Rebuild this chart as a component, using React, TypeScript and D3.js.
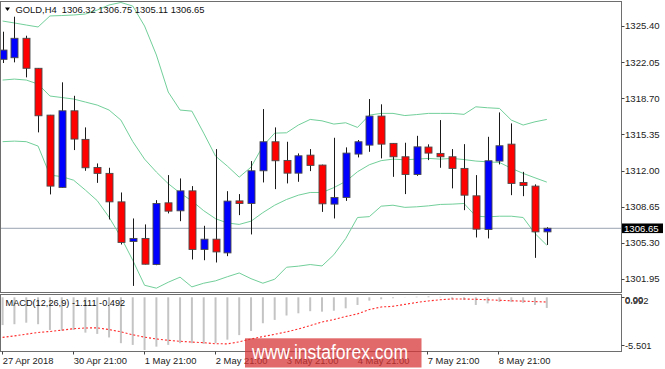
import React from "react";
import * as d3 from "d3";

const times = [
  "2018-04-27 21:00",
  "2018-04-30 01:00", "2018-04-30 05:00", "2018-04-30 09:00", "2018-04-30 13:00", "2018-04-30 17:00", "2018-04-30 21:00",
  "2018-05-01 01:00", "2018-05-01 05:00", "2018-05-01 09:00", "2018-05-01 13:00", "2018-05-01 17:00", "2018-05-01 21:00",
  "2018-05-02 01:00", "2018-05-02 05:00", "2018-05-02 09:00", "2018-05-02 13:00", "2018-05-02 17:00", "2018-05-02 21:00",
  "2018-05-03 01:00", "2018-05-03 05:00", "2018-05-03 09:00", "2018-05-03 13:00", "2018-05-03 17:00", "2018-05-03 21:00",
  "2018-05-04 01:00", "2018-05-04 05:00", "2018-05-04 09:00", "2018-05-04 13:00", "2018-05-04 17:00", "2018-05-04 21:00",
  "2018-05-07 01:00", "2018-05-07 05:00", "2018-05-07 09:00", "2018-05-07 13:00", "2018-05-07 17:00", "2018-05-07 21:00",
  "2018-05-08 01:00", "2018-05-08 05:00", "2018-05-08 09:00", "2018-05-08 13:00", "2018-05-08 17:00", "2018-05-08 21:00",
  "2018-05-09 01:00", "2018-05-09 05:00", "2018-05-09 09:00", "2018-05-09 13:00",
];

const openP = [1322.31, 1322.46, 1324.26, 1321.48, 1317.14, 1310.44, 1317.54, 1314.89, 1312.29, 1311.74, 1309.10, 1305.43, 1305.71, 1303.29, 1309.01, 1308.27, 1310.12, 1304.69, 1305.64, 1304.37, 1309.19, 1308.95, 1311.98, 1314.67, 1312.94, 1311.76, 1313.43, 1312.51, 1308.89, 1309.51, 1313.53, 1314.36, 1317.05, 1314.52, 1313.28, 1311.64, 1314.18, 1313.59, 1313.28, 1312.20, 1309.66, 1306.54, 1312.88, 1314.45, 1310.90, 1310.56, 1306.32];
const highP = [1324.87, 1326.26, 1324.50, 1321.50, 1317.16, 1320.18, 1318.93, 1316.00, 1312.66, 1312.26, 1309.97, 1307.56, 1307.01, 1309.26, 1311.58, 1311.27, 1310.56, 1306.88, 1313.99, 1310.09, 1309.82, 1312.88, 1317.70, 1316.00, 1314.67, 1313.59, 1313.99, 1312.55, 1315.04, 1314.15, 1314.83, 1318.63, 1318.14, 1314.55, 1314.58, 1315.22, 1314.43, 1316.68, 1313.99, 1314.45, 1311.58, 1315.13, 1317.39, 1316.37, 1311.88, 1310.72, 1306.75];
const lowP = [1321.97, 1322.03, 1320.64, 1315.54, 1309.79, 1310.40, 1313.90, 1311.98, 1310.86, 1307.47, 1305.15, 1301.31, 1303.30, 1303.23, 1308.03, 1307.31, 1303.76, 1303.69, 1303.48, 1304.07, 1307.87, 1306.08, 1310.90, 1310.28, 1310.81, 1310.96, 1311.95, 1308.17, 1307.56, 1309.19, 1313.22, 1313.74, 1313.13, 1311.42, 1309.82, 1311.51, 1312.97, 1312.26, 1310.35, 1308.33, 1305.80, 1305.71, 1312.57, 1309.72, 1309.63, 1303.91, 1305.11];
const closeP = [1323.17, 1324.26, 1321.48, 1317.08, 1310.56, 1317.54, 1314.92, 1312.26, 1311.74, 1309.10, 1305.34, 1305.71, 1303.32, 1308.95, 1308.24, 1310.12, 1304.69, 1305.64, 1304.46, 1309.17, 1308.95, 1311.98, 1314.67, 1312.91, 1311.76, 1313.37, 1312.48, 1308.92, 1309.51, 1313.62, 1314.67, 1317.05, 1314.45, 1313.28, 1311.64, 1314.20, 1313.62, 1313.28, 1312.20, 1309.72, 1306.57, 1312.91, 1314.30, 1310.81, 1310.62, 1306.32, 1306.65];

const bbUpper = [1325.86, 1325.68, 1325.49, 1325.31, 1326.33, 1326.37, 1326.42, 1326.51, 1326.88, 1327.35, 1327.58, 1327.25, 1325.40, 1322.71, 1319.28, 1317.61, 1317.51, 1315.47, 1313.34, 1312.41, 1311.39, 1312.32, 1314.27, 1315.47, 1315.50, 1316.22, 1316.74, 1316.61, 1316.31, 1316.43, 1316.00, 1317.14, 1317.30, 1317.30, 1317.10, 1317.19, 1317.30, 1317.30, 1317.30, 1317.21, 1317.91, 1317.82, 1317.76, 1316.68, 1316.22, 1316.52, 1316.74];
const bbMiddle = [1320.39, 1320.48, 1320.39, 1320.02, 1318.91, 1318.77, 1318.63, 1318.35, 1318.07, 1317.61, 1316.68, 1314.69, 1313.06, 1311.86, 1310.79, 1309.92, 1309.19, 1308.28, 1307.54, 1307.14, 1307.01, 1307.31, 1308.10, 1308.79, 1309.32, 1309.72, 1309.97, 1309.97, 1310.42, 1310.99, 1311.89, 1312.54, 1312.92, 1313.06, 1313.00, 1313.06, 1313.13, 1313.06, 1313.13, 1313.02, 1312.88, 1312.81, 1312.75, 1312.21, 1311.74, 1311.33, 1310.93];
const bbLower = [1314.68, 1314.73, 1314.68, 1314.27, 1311.58, 1311.44, 1311.11, 1310.19, 1309.21, 1307.68, 1305.83, 1303.69, 1301.37, 1301.10, 1301.65, 1302.12, 1301.22, 1301.56, 1301.78, 1302.16, 1302.51, 1301.98, 1301.56, 1301.93, 1303.04, 1303.14, 1303.29, 1303.16, 1304.20, 1305.69, 1307.65, 1307.73, 1308.70, 1308.79, 1308.59, 1308.64, 1308.73, 1308.86, 1308.89, 1308.95, 1307.77, 1307.71, 1307.77, 1307.77, 1307.65, 1306.17, 1305.08];

const macdMain = [-2.90, -2.81, -2.65, -2.81, -3.41, -3.48, -3.41, -3.69, -3.82, -4.19, -4.79, -4.97, -5.50, -5.15, -4.97, -4.79, -4.79, -4.86, -4.79, -4.42, -3.95, -3.51, -2.71, -2.36, -1.90, -1.67, -1.45, -1.50, -1.40, -1.15, -0.80, -0.35, -0.21, -0.10, -0.02, 0.06, 0.10, 0.05, -0.21, -0.28, -0.80, -0.63, -0.49, -0.50, -0.58, -0.80, -1.111];
const macdSignal = [-4.18, -4.03, -3.85, -3.67, -3.57, -3.43, -3.28, -3.20, -3.19, -3.37, -3.60, -3.91, -4.16, -4.35, -4.49, -4.59, -4.67, -4.74, -4.85, -4.86, -4.65, -4.35, -4.10, -3.86, -3.61, -3.31, -2.95, -2.58, -2.32, -2.01, -1.73, -1.28, -1.01, -0.94, -0.74, -0.54, -0.38, -0.25, -0.18, -0.18, -0.21, -0.26, -0.31, -0.36, -0.40, -0.45, -0.492];

const priceTicks = [1325.40, 1322.05, 1318.70, 1315.35, 1312.00, 1308.65, 1305.30, 1301.95];
const xTickIdx = [0, 6, 12, 18, 24, 30, 36, 42];
const xTickLabels = ["27 Apr 2018", "30 Apr 21:00", "1 May 21:00", "2 May 21:00", "3 May 21:00", "4 May 21:00", "7 May 21:00", "8 May 21:00"];
const macdLabels = ["0.00", "0.992", "-5.501"];
const headerText = "GOLD,H4  1306.32 1306.75 1305.11 1306.65";
const macdTitle = "MACD(12,26,9) -1.111 -0.492";
const lastPrice = 1306.65;

const FONT = "'Liberation Sans', Arial, sans-serif";

export default function App() {
  const W = 665, H = 369;
  const L = 0.5, R = 621.5;
  const mainTop = 1.5, mainBottom = 292.5;
  const macdTop = 294.5, macdBottom = 351.5;

  const x = d3.scalePoint<string>().domain(times).range([2.6, 546.8]);
  const y = d3.scaleLinear().domain([1301.95, 1325.4]).range([279, 26]);
  const ym = d3.scaleLinear().domain([-5.501, 0]).range([350, 297.3]);

  const bandLine = d3
    .line<number>()
    .x((_, i) => x(times[i]) as number)
    .y((d) => y(d));
  const sigLine = d3
    .line<number>()
    .x((_, i) => x(times[i]) as number)
    .y((d) => ym(d));

  const bodyW = 7;
  const bandColor = "#72cf9a";

  return (
    <svg
      width={W}
      height={H}
      style={{ position: "absolute", left: 0, top: 0, background: "#fff" }}
      fontFamily={FONT}
    >
      <defs>
        <clipPath id="mainClip">
          <rect x={L + 0.5} y={mainTop + 0.5} width={R - L - 1} height={mainBottom - mainTop - 1} />
        </clipPath>
        <clipPath id="macdClip">
          <rect x={L + 0.5} y={macdTop + 0.5} width={R - L - 1} height={macdBottom - macdTop - 1} />
        </clipPath>
      </defs>
      <rect x={0} y={0} width={W} height={H} fill="#fff" />

      {/* main panel */}
      <g clipPath="url(#mainClip)">
        <line x1={L} x2={R} y1={y(lastPrice)} y2={y(lastPrice)} stroke="#97a3b0" strokeWidth={1} />
        <path d={bandLine(bbUpper) || ""} fill="none" stroke={bandColor} strokeWidth={1} />
        <path d={bandLine(bbMiddle) || ""} fill="none" stroke={bandColor} strokeWidth={1} />
        <path d={bandLine(bbLower) || ""} fill="none" stroke={bandColor} strokeWidth={1} />
        {times.map((t, i) => {
          const cx = Math.round(x(t) as number) + 0.5;
          const o = openP[i], c = closeP[i];
          const up = c >= o;
          const yTop = y(Math.max(o, c));
          const yBot = y(Math.min(o, c));
          return (
            <g key={t}>
              <line x1={cx} x2={cx} y1={y(highP[i])} y2={y(lowP[i])} stroke="#1a1a1a" strokeWidth={1} />
              <rect
                x={cx - bodyW / 2}
                y={yTop}
                width={bodyW}
                height={Math.max(1.5, yBot - yTop)}
                fill={up ? "#0000ff" : "#ff0000"}
                stroke="#4a4a4a"
                strokeWidth={0.9}
              />
            </g>
          );
        })}
      </g>

      {/* header */}
      <path d="M5,7.5 L10,7.5 L7.5,11 Z" fill="#000" />
      <text x={15.5} y={12.8} fontSize={9.4} fill="#111" style={{ whiteSpace: "pre" }}>
        {headerText}
      </text>

      {/* macd panel */}
      <g clipPath="url(#macdClip)">
        {times.map((t, i) => (
          <line
            key={"h" + t}
            x1={x(t) as number}
            x2={x(t) as number}
            y1={ym(0)}
            y2={ym(macdMain[i])}
            stroke="#c4c4c4"
            strokeWidth={2}
          />
        ))}
        <path d={sigLine(macdSignal) || ""} fill="none" stroke="#ff2a2a" strokeWidth={1.1} strokeDasharray="2 2" />
      </g>
      <text x={5.5} y={306} fontSize={9.2} fill="#111">
        {macdTitle}
      </text>

      {/* frames */}
      <rect x={L} y={mainTop} width={R - L} height={mainBottom - mainTop} fill="none" stroke="#6e6e6e" strokeWidth={1} />
      <rect x={L} y={macdTop} width={R - L} height={macdBottom - macdTop} fill="none" stroke="#6e6e6e" strokeWidth={1} />

      {/* price axis */}
      {priceTicks.map((p) => (
        <g key={p}>
          <line x1={R} x2={R + 3} y1={Math.round(y(p)) + 0.5} y2={Math.round(y(p)) + 0.5} stroke="#444" />
          <text x={625} y={y(p) + 3.4} fontSize={9.6} fill="#222">
            {p.toFixed(2)}
          </text>
        </g>
      ))}
      <rect x={622} y={y(lastPrice) - 4.8} width={41} height={9.6} fill="#000" />
      <text x={624} y={y(lastPrice) + 3.4} fontSize={9.6} fill="#fff">
        {lastPrice.toFixed(2)}
      </text>

      {/* macd axis */}
      <text x={625} y={302.6} fontSize={9.4} fill="#222">{macdLabels[0]}</text>
      <text x={625} y={303.6} fontSize={9.4} fill="#222">{macdLabels[1]}</text>
      <text x={625} y={348.8} fontSize={9.4} fill="#222">{macdLabels[2]}</text>
      <line x1={R} x2={R + 3} y1={297.5} y2={297.5} stroke="#444" />
      <line x1={R} x2={R + 3} y1={345.5} y2={345.5} stroke="#444" />

      {/* time axis */}
      {xTickIdx.map((idx, k) => {
        const tx = Math.round(x(times[idx]) as number) - 0.5;
        return (
          <g key={"xt" + idx}>
            <line x1={tx} x2={tx} y1={macdBottom} y2={macdBottom + 3} stroke="#444" />
            <text x={tx + 0.3} y={363.5} fontSize={9.4} fill="#222">
              {xTickLabels[k]}
            </text>
          </g>
        );
      })}

      {/* watermark */}
      <rect x={245} y={338.3} width={176.5} height={29.2} fill="rgb(214,52,52)" fillOpacity={0.74} />
      <text
        x={252}
        y={358.5}
        fontSize={20}
        fill="#fff"
        textLength={156}
        lengthAdjust="spacingAndGlyphs"
      >
        www.instaforex.com
      </text>
    </svg>
  );
}
